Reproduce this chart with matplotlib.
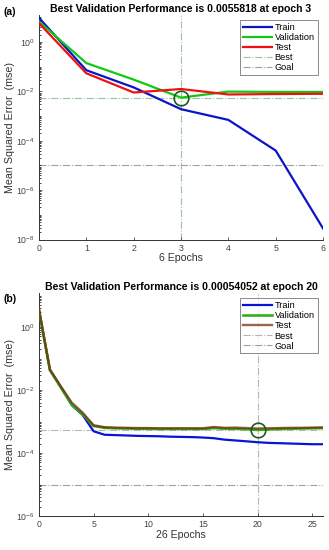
import numpy as np
import matplotlib.pyplot as plt
from matplotlib.ticker import LogLocator, NullFormatter

plt.rcParams['font.family'] = ['Liberation Sans', 'DejaVu Sans']

# (a) 6 epochs
epochs_a = [0, 1, 2, 3, 4, 5, 6]
train_a = [9.5, 0.072, 0.0145, 0.0019, 7.0e-4, 4.0e-5, 2.8e-8]
val_a = [6.7, 0.14, 0.03, 0.0055818, 0.0098, 0.0095, 0.0095]
test_a = [5.8, 0.054, 0.009, 0.0125, 0.0075, 0.0078, 0.008]
best_epoch_a = 3
best_perf_a = 0.0055818

# (b) 26 epochs
epochs_b = list(range(27))
train_b = [3.5, 0.043, 0.0125, 0.0033, 0.0016, 4.9e-4, 3.8e-4, 3.7e-4, 3.6e-4, 3.5e-4,
           3.45e-4, 3.4e-4, 3.3e-4, 3.25e-4, 3.2e-4, 3.1e-4, 2.95e-4, 2.65e-4, 2.5e-4,
           2.35e-4, 2.2e-4, 2.1e-4, 2.05e-4, 2.0e-4, 1.95e-4, 1.9e-4, 1.9e-4]
val_b = [3.4, 0.043, 0.012, 0.0034, 0.0017, 7.2e-4, 6.3e-4, 6.1e-4, 6.0e-4, 5.9e-4,
         5.9e-4, 5.8e-4, 5.8e-4, 5.8e-4, 5.8e-4, 5.8e-4, 6.2e-4, 5.9e-4, 5.9e-4,
         5.7e-4, 5.4052e-4, 5.6e-4, 5.8e-4, 5.9e-4, 6.0e-4, 6.1e-4, 6.2e-4]
test_b = [3.6, 0.045, 0.013, 0.0040, 0.0019, 7.6e-4, 6.6e-4, 6.4e-4, 6.3e-4, 6.2e-4,
          6.2e-4, 6.1e-4, 6.1e-4, 6.1e-4, 6.1e-4, 6.1e-4, 6.7e-4, 6.3e-4, 6.4e-4,
          6.2e-4, 6.0e-4, 6.1e-4, 6.2e-4, 6.3e-4, 6.3e-4, 6.4e-4, 6.5e-4]
best_epoch_b = 20
best_perf_b = 0.00054052

goal = 1e-5

fig = plt.figure(figsize=(3.29, 5.5), dpi=100)
ax1 = fig.add_axes([0.1185, 0.5645, 0.8635, 0.4085])
ax2 = fig.add_axes([0.1185, 0.0618, 0.8635, 0.4055])


def style(ax, xmax, ylo, yhi, nep, best_ep, best_perf, title, best_col):
    ax.set_yscale('log')
    ax.set_xlim(0, xmax)
    ax.set_ylim(ylo, yhi)
    ax.axvline(best_ep, color=best_col, lw=0.8, ls='-.', label='Best', zorder=1)
    ax.axhline(best_perf, color=best_col, lw=0.8, ls='-.', zorder=1)
    ax.axhline(goal, color='#a0a0a0', lw=0.8, ls='-.', label='Goal', zorder=1)
    ax.plot(best_ep, best_perf, 'o', mfc='none', mec='#1f5a1f', ms=10.5, mew=1.2, zorder=5)
    for s in ['top', 'right']:
        ax.spines[s].set_visible(False)
    for s in ['left', 'bottom']:
        ax.spines[s].set_color('#333333')
        ax.spines[s].set_linewidth(0.7)
    ax.yaxis.set_major_locator(LogLocator(base=100))
    ax.yaxis.set_minor_locator(LogLocator(base=10, subs=np.arange(1, 10), numticks=30))
    ax.yaxis.set_minor_formatter(NullFormatter())
    ax.tick_params(direction='in', labelsize=6.3, colors='#444444', length=2.5, width=0.6, pad=3)
    ax.tick_params(which='minor', direction='in', length=1.5, width=0.5)
    ax.set_xlabel(f'{nep} Epochs', fontsize=7.6, color='#333333', labelpad=0.5)
    ax.set_ylabel('Mean Squared Error  (mse)', fontsize=7.7, color='#333333', labelpad=1)
    ax.set_title(title, fontsize=7.6, fontweight='bold', pad=2)
    handles, labels = ax.get_legend_handles_labels()
    order = ['Train', 'Validation', 'Test', 'Best', 'Goal']
    hd = dict(zip(labels, handles))
    leg = ax.legend([hd[k] for k in order], order, loc='upper right', fontsize=6.6,
                    frameon=True, fancybox=False, handlelength=3.2, handletextpad=0.25,
                    borderpad=0.3, labelspacing=0.12, borderaxespad=0.6)
    leg.get_frame().set_edgecolor('#555555')
    leg.get_frame().set_linewidth(0.6)


ax1.plot(epochs_a, train_a, color='#0a14c8', lw=1.6, label='Train', zorder=3)
ax1.plot(epochs_a, val_a, color='#12c812', lw=1.6, label='Validation', zorder=3)
ax1.plot(epochs_a, test_a, color='#f01010', lw=1.6, label='Test', zorder=4)
style(ax1, 6, 1e-8, 10 ** 1.1, 6, best_epoch_a, best_perf_a,
      'Best Validation Performance is 0.0055818 at epoch 3', '#9cc49c')
ax1.set_xticks(range(0, 7))

ax2.plot(epochs_b, train_b, color='#0a14d8', lw=1.6, label='Train', zorder=3)
ax2.plot(epochs_b, val_b, color='#30b020', lw=1.9, label='Validation', zorder=3)
ax2.plot(epochs_b, test_b, color='#7a2800', lw=1.7, alpha=0.72, label='Test', zorder=4)
style(ax2, 26, 1e-6, 10 ** 1.08, 26, best_epoch_b, best_perf_b,
      'Best Validation Performance is 0.00054052 at epoch 20', '#b0b8b0')
ax2.set_xticks(range(0, 26, 5))

fig.text(0.01, 0.978, '(a)', fontsize=7.5, fontweight='bold', va='center')
fig.text(0.01, 0.456, '(b)', fontsize=7.5, fontweight='bold', va='center')

fig.savefig('out.png', dpi=100)
